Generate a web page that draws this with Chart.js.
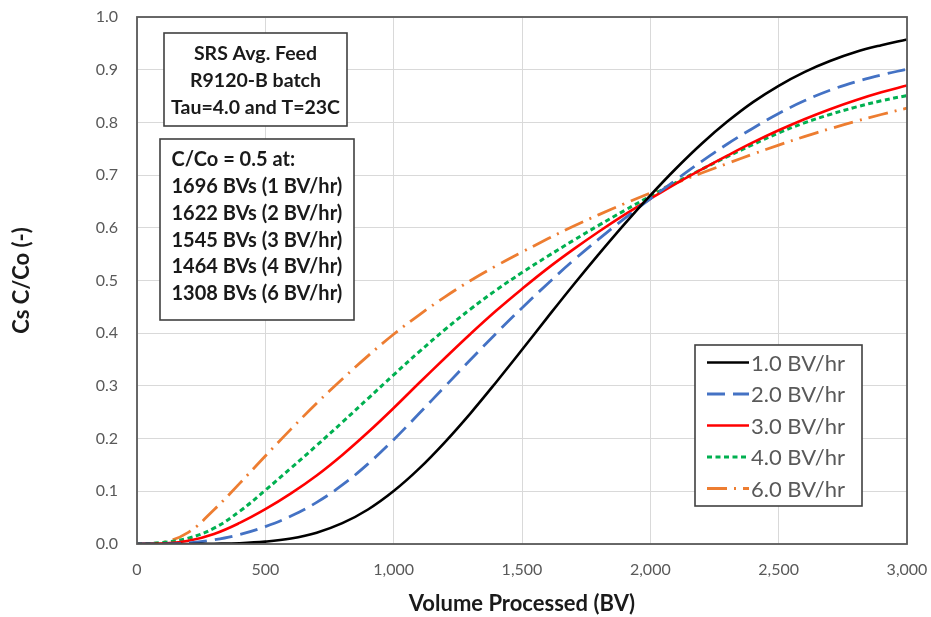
<!DOCTYPE html>
<html>
<head>
<meta charset="utf-8">
<script src="https://cdn.jsdelivr.net/npm/chart.js@4.4.1/dist/chart.umd.min.js"></script>
<style>
  html, body { margin: 0; padding: 0; background: #ffffff; }
  #wrap { width: 931px; height: 617px; position: relative; }
</style>
</head>
<body>
<div id="wrap"><canvas id="c" width="931" height="617"></canvas></div>
<script>
// Volume processed, in bed volumes
const volumeBV = [0, 100, 200, 300, 400, 500, 600, 700, 800, 900, 1000,
  1100, 1200, 1300, 1400, 1500, 1600, 1700, 1800, 1900, 2000,
  2100, 2200, 2300, 2400, 2500, 2600, 2700, 2800, 2900, 3000];

// Cs C/Co breakthrough at each flow rate
const rate1 = [0, 0, 0, 0.0005, 0.0015, 0.0045, 0.0105, 0.0215, 0.0395, 0.0655, 0.1005,
  0.1435, 0.1935, 0.2485, 0.3075, 0.3685, 0.4305, 0.4915, 0.5505, 0.6075, 0.6615,
  0.7125, 0.7595, 0.8015, 0.8385, 0.8695, 0.8955, 0.9165, 0.9335, 0.9465, 0.9575];
const rate2 = [0, 0, 0.002, 0.008, 0.018, 0.033, 0.053, 0.079, 0.112, 0.152, 0.198,
  0.248, 0.299, 0.350, 0.400, 0.448, 0.494, 0.538, 0.579, 0.618, 0.655,
  0.691, 0.726, 0.759, 0.789, 0.817, 0.841, 0.861, 0.877, 0.890, 0.901];
const rate3 = [0, 0.001, 0.006, 0.019, 0.040, 0.066, 0.096, 0.130, 0.169, 0.212, 0.258,
  0.306, 0.353, 0.399, 0.443, 0.484, 0.523, 0.559, 0.593, 0.625, 0.655,
  0.684, 0.711, 0.737, 0.762, 0.785, 0.806, 0.825, 0.842, 0.857, 0.870];
const rate4 = [0, 0.003, 0.011, 0.030, 0.062, 0.102, 0.144, 0.187, 0.231, 0.276, 0.321,
  0.365, 0.407, 0.446, 0.482, 0.515, 0.546, 0.576, 0.605, 0.633, 0.660,
  0.686, 0.711, 0.735, 0.758, 0.780, 0.799, 0.815, 0.829, 0.841, 0.851];
const rate6 = [0, 0.003, 0.022, 0.065, 0.115, 0.167, 0.218, 0.267, 0.313, 0.357, 0.398,
  0.435, 0.469, 0.500, 0.528, 0.554, 0.579, 0.603, 0.625, 0.646, 0.666,
  0.685, 0.704, 0.722, 0.740, 0.757, 0.773, 0.788, 0.802, 0.815, 0.827];

const seriesLabels = ['1.0 BV/hr', '2.0 BV/hr', '3.0 BV/hr', '4.0 BV/hr', '6.0 BV/hr'];

const yTicks = [0, 0.1, 0.2, 0.3, 0.4, 0.5, 0.6, 0.7, 0.8, 0.9, 1.0];
const xTicks = [0, 500, 1000, 1500, 2000, 2500, 3000];

const infoBoxTop = ['SRS Avg. Feed', 'R9120-B batch', 'Tau=4.0 and T=23C'];
const infoBoxBottom = ['C/Co = 0.5 at:', '1696 BVs (1 BV/hr)', '1622 BVs (2 BV/hr)',
  '1545 BVs (3 BV/hr)', '1464 BVs (4 BV/hr)', '1308 BVs (6 BV/hr)'];

const FONT = 'Lato, "Open Sans", sans-serif';

function toPoints(arr) {
  return volumeBV.map((x, i) => ({ x: x, y: arr[i] }));
}

const styles = [
  { color: '#000000', dash: [], width: 2.6 },
  { color: '#4472C4', dash: [18, 8], width: 2.8 },
  { color: '#FF0000', dash: [], width: 2.6 },
  { color: '#00B050', dash: [5, 3.5], width: 3 },
  { color: '#ED7D31', dash: [20, 7, 2, 7], width: 2.8 }
];
const allSeries = [rate1, rate2, rate3, rate4, rate6];

const datasets = allSeries.map((arr, i) => ({
  label: seriesLabels[i],
  data: toPoints(arr),
  borderColor: styles[i].color,
  borderWidth: styles[i].width,
  borderDash: styles[i].dash,
  borderCapStyle: 'butt',
  pointRadius: 0,
  fill: false,
  tension: 0.4
}));

// Frame around the plot area plus the two text boxes and the legend
const decorations = {
  id: 'decorations',
  afterDatasetsDraw(chart) {
    const { ctx, chartArea: a } = chart;
    ctx.save();
    ctx.strokeStyle = '#595959';
    ctx.lineWidth = 1.8;
    ctx.strokeRect(a.left, a.top, a.right - a.left, a.bottom - a.top);

    function box(x, y, w, h) {
      ctx.fillStyle = '#ffffff';
      ctx.fillRect(x, y, w, h);
      ctx.strokeStyle = '#404040';
      ctx.lineWidth = 1.6;
      ctx.strokeRect(x, y, w, h);
    }
    ctx.textBaseline = 'middle';

    box(164, 33, 183, 93);
    ctx.font = 'bold 19.5px ' + FONT;
    ctx.fillStyle = '#1a1a1a';
    ctx.textAlign = 'center';
    infoBoxTop.forEach((t, i) => ctx.fillText(t, 255.5, 54 + i * 26.7));

    box(160, 139, 194, 181);
    ctx.font = 'bold 20px ' + FONT;
    ctx.fillStyle = '#1a1a1a';
    ctx.textAlign = 'left';
    infoBoxBottom.forEach((t, i) => ctx.fillText(t, 171.5, 160 + i * 26.7));

    // Legend
    box(695, 345, 167, 161);
    ctx.font = '22px ' + FONT;
    chart.data.datasets.forEach((ds, i) => {
      const y = 362.5 + i * 31.5;
      ctx.beginPath();
      ctx.strokeStyle = ds.borderColor;
      ctx.lineWidth = ds.borderWidth;
      ctx.setLineDash(ds.borderDash);
      ctx.lineCap = 'butt';
      ctx.moveTo(707, y);
      ctx.lineTo(749, y);
      ctx.stroke();
      ctx.setLineDash([]);
      ctx.fillStyle = '#595959';
      ctx.textAlign = 'left';
      ctx.fillText(ds.label, 751, y + 1);
    });
    ctx.restore();
  }
};

new Chart(document.getElementById('c'), {
  type: 'line',
  data: { datasets: datasets },
  plugins: [decorations],
  options: {
    responsive: false,
    animation: false,
    devicePixelRatio: 1,
    layout: { padding: { left: 0, right: 24, top: 17, bottom: 0 } },
    plugins: {
      legend: { display: false },
      tooltip: { enabled: false }
    },
    scales: {
      x: {
        type: 'linear',
        min: 0,
        max: 3000,
        afterFit(s) { s.height = 73; s.paddingLeft = 0; s.paddingRight = 0; },
        afterBuildTicks(s) { s.ticks = xTicks.map(v => ({ value: v })); },
        grid: { color: '#D9D9D9', lineWidth: 1, drawTicks: false },
        border: { display: false },
        ticks: {
          padding: 16,
          color: '#595959',
          font: { family: FONT, size: 16 },
          maxRotation: 0,
          callback: v => v.toLocaleString('en-US')
        },
        title: {
          display: true,
          text: 'Volume Processed (BV)',
          color: '#1a1a1a',
          font: { family: FONT, size: 22, weight: 'bold' },
          padding: { top: 0, bottom: 0 }
        }
      },
      y: {
        type: 'linear',
        min: 0,
        max: 1,
        afterFit(s) { s.width = 137; s.paddingTop = 0; s.paddingBottom = 0; },
        afterBuildTicks(s) { s.ticks = yTicks.map(v => ({ value: v })); },
        grid: { color: '#D9D9D9', lineWidth: 1, drawTicks: false },
        border: { display: false },
        ticks: {
          padding: 19,
          color: '#595959',
          font: { family: FONT, size: 16 },
          callback: v => Number(v).toFixed(1)
        },
        title: {
          display: true,
          text: 'Cs C/Co (-)',
          color: '#1a1a1a',
          font: { family: FONT, size: 22, weight: 'bold' },
          padding: { top: 9, bottom: 0 }
        }
      }
    }
  }
});
</script>
</body>
</html>
